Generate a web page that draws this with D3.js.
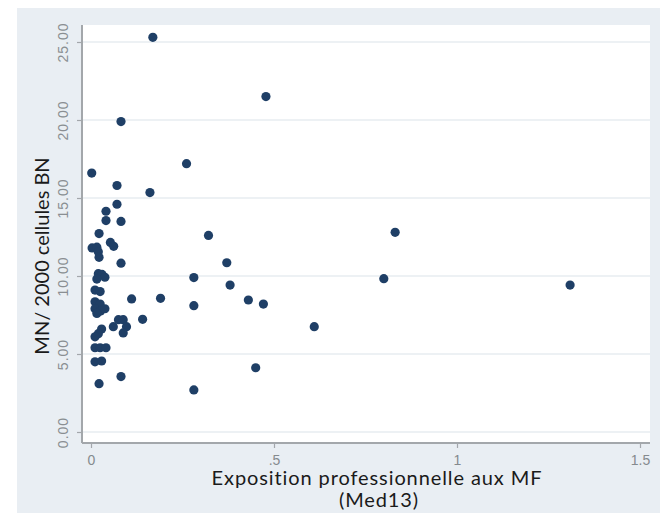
<!DOCTYPE html>
<html>
<head>
<meta charset="utf-8">
<script src="https://cdn.jsdelivr.net/npm/d3@7"></script>
<style>
  html, body { margin: 0; padding: 0; background: #ffffff; }
  svg { display: block; }
</style>
</head>
<body>
<svg id="chart" width="660" height="513"></svg>
<script>
// ---- data ----
const expoMF = [
  0.169, 0.478, 0.082, 0.002, 0.261, 0.071, 0.161, 0.071, 0.041, 0.041,
  0.082, 0.022, 0.321, 0.831, 0.053, 0.062, 0.003, 0.016, 0.020, 0.022,
  0.082, 0.371, 0.020, 0.030, 0.038, 0.016, 0.281, 0.800, 0.380, 1.309,
  0.011, 0.025, 0.111, 0.190, 0.430, 0.471, 0.011, 0.025, 0.281, 0.011,
  0.026, 0.038, 0.016, 0.075, 0.088, 0.141, 0.097, 0.088, 0.061, 0.610,
  0.029, 0.020, 0.011, 0.011, 0.025, 0.041, 0.011, 0.029, 0.082, 0.022,
  0.450, 0.281
];
const mnBN = [
  25.3, 21.5, 19.9, 16.6, 17.2, 15.8, 15.35, 14.6, 14.15, 13.55,
  13.5, 12.72, 12.6, 12.8, 12.15, 11.9, 11.8, 11.85, 11.55, 11.2,
  10.82, 10.85, 10.15, 10.1, 9.92, 9.8, 9.9, 9.83, 9.42, 9.42,
  9.1, 9.0, 8.53, 8.57, 8.46, 8.2, 8.35, 8.2, 8.1, 7.9,
  7.75, 7.9, 7.6, 7.2, 7.2, 7.22, 6.75, 6.35, 6.75, 6.75,
  6.6, 6.3, 6.1, 5.4, 5.4, 5.4, 4.5, 4.55, 3.55, 3.1,
  4.12, 2.7
];
const yTicks = [0, 5, 10, 15, 20, 25];
const xTicks = [0, 0.5, 1, 1.5];
const xTickLabels = ["0", ".5", "1", "1.5"];
const xTitleLines = ["Exposition professionnelle aux MF", "(Med13)"];
const yTitle = "MN/ 2000 cellules BN";

// ---- layout ----
const svg = d3.select("#chart");
const plot = { left: 82, right: 650, top: 25, bottom: 443 };

const x = d3.scaleLinear().domain([0, 1.5]).range([91, 640]);
const y = d3.scaleLinear().domain([0, 25]).range([432, 42]);

// outer background
svg.append("rect").attr("x", 17).attr("y", 8).attr("width", 643).attr("height", 505)
  .attr("fill", "#e9eef3");
// plot region
svg.append("rect").attr("x", plot.left).attr("y", plot.top)
  .attr("width", plot.right - plot.left).attr("height", plot.bottom - plot.top)
  .attr("fill", "#ffffff");

// gridlines
svg.append("g").selectAll("line").data(yTicks).join("line")
  .attr("x1", plot.left).attr("x2", plot.right)
  .attr("y1", d => y(d)).attr("y2", d => y(d))
  .attr("stroke", "#edf1f4").attr("stroke-width", 2);

// y axis
const yAxis = svg.append("g").attr("transform", `translate(${plot.left},0)`)
  .call(d3.axisLeft(y).tickValues(yTicks).tickFormat(d3.format(".2f")).tickSize(5).tickPadding(10));
yAxis.select(".domain").remove();
yAxis.selectAll(".tick line").attr("stroke", "#a3a7ab").attr("stroke-width", 1.2);
yAxis.selectAll(".tick text")
  .attr("transform", "rotate(-90)")
  .attr("x", 0).attr("y", -19)
  .attr("dy", "0.35em")
  .attr("text-anchor", "middle")
  .attr("font-family", "Liberation Sans, Arial, sans-serif")
  .attr("font-size", 14)
  .attr("letter-spacing", 1)
  .attr("fill", "#8a8e92");

// x axis
const xAxis = svg.append("g").attr("transform", `translate(0,${plot.bottom})`)
  .call(d3.axisBottom(x).tickValues(xTicks).tickFormat((d, i) => xTickLabels[i]).tickSize(5).tickPadding(7));
xAxis.select(".domain").remove();
xAxis.selectAll(".tick line").attr("stroke", "#a3a7ab").attr("stroke-width", 1.2);
xAxis.selectAll(".tick text")
  .attr("font-family", "Liberation Sans, Arial, sans-serif")
  .attr("font-size", 14)
  .attr("fill", "#858a8e");

// axis lines
svg.append("line").attr("x1", plot.left).attr("x2", plot.left)
  .attr("y1", plot.top).attr("y2", plot.bottom)
  .attr("stroke", "#a3a7ab").attr("stroke-width", 2);
svg.append("line").attr("x1", plot.left).attr("x2", plot.right)
  .attr("y1", plot.bottom).attr("y2", plot.bottom)
  .attr("stroke", "#a3a7ab").attr("stroke-width", 2);

// points
const pts = expoMF.map((v, i) => ({ x: v, y: mnBN[i] }));
svg.append("g").selectAll("circle").data(pts).join("circle")
  .attr("cx", d => x(d.x)).attr("cy", d => y(d.y)).attr("r", 4.6)
  .attr("fill", "#1f3f66");

// axis titles
const xt = svg.append("text")
  .attr("font-family", "Lato, 'Open Sans', sans-serif")
  .attr("font-size", 20)
  .attr("letter-spacing", 0.9)
  .attr("fill", "#1a1a1a")
  .attr("text-anchor", "middle");
xt.append("tspan").attr("x", 377).attr("y", 485).text(xTitleLines[0]);
xt.append("tspan").attr("x", 379).attr("y", 507).text(xTitleLines[1]);

svg.append("text")
  .attr("transform", "translate(49,256) rotate(-90)")
  .attr("font-family", "Lato, 'Open Sans', sans-serif")
  .attr("font-size", 20)
  .attr("fill", "#1a1a1a")
  .attr("text-anchor", "middle")
  .text(yTitle);
</script>
</body>
</html>
